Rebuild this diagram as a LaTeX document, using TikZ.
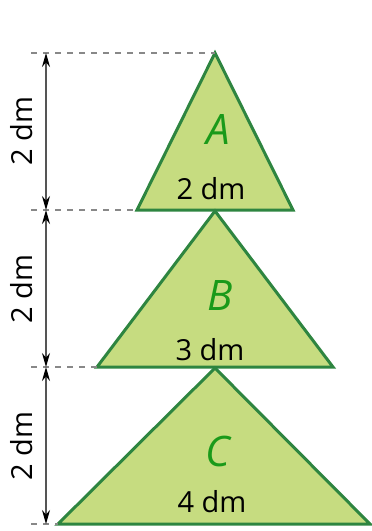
\documentclass[tikz,border=0pt]{standalone}
\usepackage{fontspec}
\setmainfont{Open Sans}
\usepackage{xcolor}
\usetikzlibrary{arrows.meta,positioning,calc}
\definecolor{xfill}{HTML}{C6DC80}
\definecolor{xedge}{HTML}{2E8540}
\definecolor{xletter}{HTML}{1A9A1A}
\definecolor{xgray}{HTML}{555555}

\begin{document}
\begin{tikzpicture}[
    x=0.5pt, y=-0.5pt,
    >=Stealth,
    tri/.style={fill=xfill, draw=xedge, line width=1.5pt, line join=miter},
    guide/.style={dashed, draw=xgray!70, line width=0.6pt},
    dim/.style={<->, draw=xgray, line width=0.6pt, >={Stealth[black, length=7pt, width=4pt]}},
    size/.style={font=\fontsize{14.5}{16}\selectfont, text=black},
    letter/.style={font=\fontsize{21}{23}\selectfont\itshape, text=xletter},
]
\useasboundingbox (0,0) rectangle (371,531);

% Corners
\coordinate (atop) at (215,53);
\coordinate (aleft) at (137,210);
\coordinate (aright) at (293,210);
\coordinate (btop) at (215,211);
\coordinate (bleft) at (97,367);
\coordinate (bright) at (333,367);
\coordinate (ctop) at (215,368);
\coordinate (cleft) at (58,524);
\coordinate (cright) at (370,524);

% Triangles
\draw[tri] (atop) -- (aleft) -- (aright) -- cycle;
\draw[tri] (btop) -- (bleft) -- (bright) -- cycle;
\draw[tri] (ctop) -- (cleft) -- (cright) -- cycle;

% Labels
\node[letter] (la) at (218,130) {A};
\node[letter] (lb) at (220,296) {B};
\node[letter] (lc) at (218,451) {C};
\node[size] (sa) at (211,189) {2 dm};
\node[size] (sb) at (210,350) {3 dm};
\node[size] (sc) at (212,502) {4 dm};

% Guides
\coordinate (g0) at (31,53);
\coordinate (g1) at (31,210);
\coordinate (g2) at (31,367);
\coordinate (g3) at (31,524);
\draw[guide] (g0) -- (atop);
\draw[guide] (g1) -- (aleft);
\draw[guide] (g2) -- (bleft);
\draw[guide] (g3) -- (cleft);

% Heights
\coordinate (d0) at (46,53);
\coordinate (d1) at (46,210);
\coordinate (d2) at (46,367);
\coordinate (d3) at (46,524);
\draw[dim] (d0) -- (d1);
\draw[dim] (d1) -- (d2);
\draw[dim] (d2) -- (d3);
\node[size, rotate=90] (ha) at (22,131) {2 dm};
\node[size, rotate=90] (hb) at (22,289) {2 dm};
\node[size, rotate=90] (hc) at (22,446) {2 dm};

\end{tikzpicture}
\end{document}
